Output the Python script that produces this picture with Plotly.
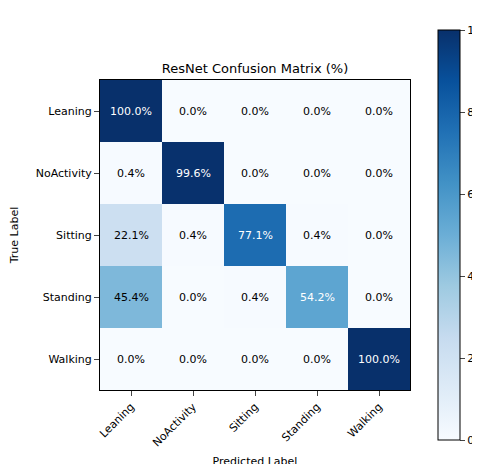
import plotly.graph_objects as go

labels = ["Leaning", "NoActivity", "Sitting", "Standing", "Walking"]
values = [
    [100.0, 0.0, 0.0, 0.0, 0.0],
    [0.4, 99.6, 0.0, 0.0, 0.0],
    [22.1, 0.4, 77.1, 0.4, 0.0],
    [45.4, 0.0, 0.4, 54.2, 0.0],
    [0.0, 0.0, 0.0, 0.0, 100.0],
]

blues = [[0.0, "#f7fbff"], [0.125, "#deebf7"], [0.25, "#c6dbef"], [0.375, "#9ecae1"],
         [0.5, "#6baed6"], [0.625, "#4292c6"], [0.75, "#2171b5"], [0.875, "#08519c"], [1.0, "#08306b"]]

fig = go.Figure(go.Heatmap(
    z=values, x=labels, y=labels, colorscale=blues, zmin=0, zmax=100,
    colorbar=dict(x=1.058, xanchor="left", y=0.5, yanchor="middle", lenmode="pixels", len=430,
                  thickness=22, outlinewidth=1, outlinecolor="black", ticks="outside",
                  tickvals=[0, 20, 40, 60, 80, 100], tickfont=dict(size=11, color="black")),
))
for i, row in enumerate(values):
    for j, v in enumerate(row):
        fig.add_annotation(x=labels[j], y=labels[i], text=f"{v:.1f}%", showarrow=False,
                           font=dict(size=11, color="white" if v > 50 else "black"))

fig.update_layout(
    width=480, height=464, margin=dict(l=92, r=78, t=72, b=82, autoexpand=False),
    plot_bgcolor="white", paper_bgcolor="white",
    font=dict(family="DejaVu Sans", color="black"),
    title=dict(text="ResNet Confusion Matrix (%)", x=247/480, xanchor="center", y=1-60/464,
               yanchor="middle", font=dict(size=13)),
)
fig.update_xaxes(title=dict(text="Predicted Label", font=dict(size=11), standoff=8), tickangle=-45,
                 showline=True, mirror=True, linecolor="black", ticks="outside",
                 tickfont=dict(size=11), automargin=False)
fig.update_yaxes(title=dict(text="True Label", font=dict(size=11)), autorange="reversed",
                 showline=True, mirror=True, linecolor="black", ticks="outside",
                 tickfont=dict(size=11), automargin=False)
fig.write_html("out.html")
